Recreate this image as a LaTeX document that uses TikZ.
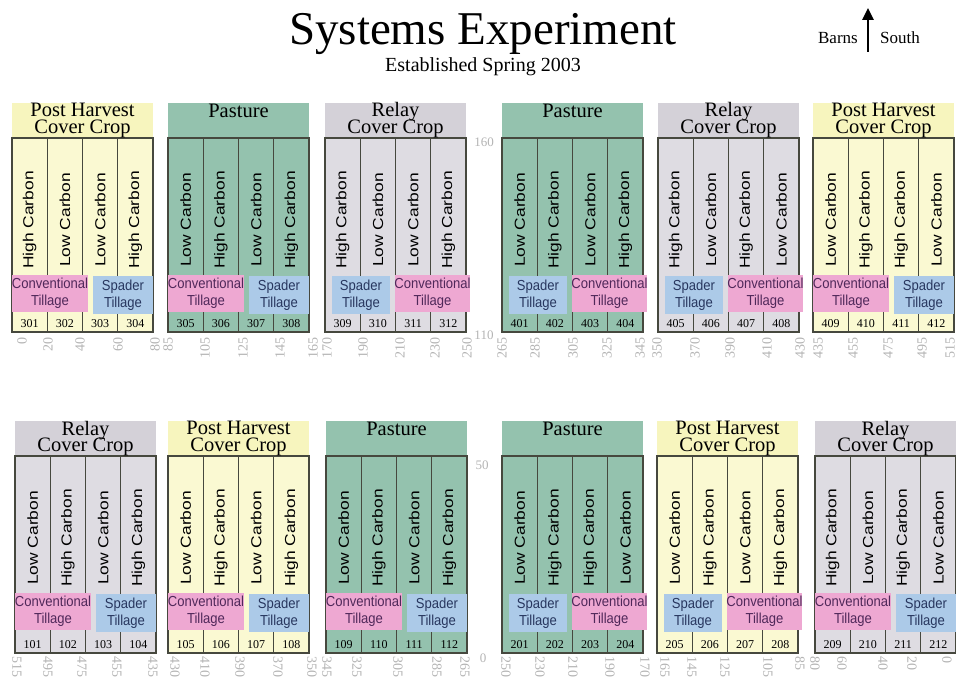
\documentclass[tikz,border=0pt]{standalone}
\usepackage{fontspec}
\usepackage{graphicx}
\setmainfont{Liberation Serif}
\newfontfamily\condsans[FakeStretch=0.9]{Liberation Sans}
\newfontfamily\widesans[FakeStretch=1.2]{Liberation Sans}
\usetikzlibrary{arrows.meta}
\definecolor{phY}{RGB}{247,245,190}
\definecolor{phYin}{RGB}{250,249,210}
\definecolor{pasG}{RGB}{148,194,174}
\definecolor{relG}{RGB}{212,209,216}
\definecolor{relGin}{RGB}{222,220,226}
\definecolor{convP}{RGB}{238,168,210}
\definecolor{spadB}{RGB}{172,202,232}
\definecolor{convT}{RGB}{80,40,90}
\definecolor{spadT}{RGB}{40,55,95}
\definecolor{lineC}{RGB}{70,72,62}
\definecolor{axisC}{RGB}{180,180,180}
\tikzset{
  ph head/.style={fill=phY}, ph body/.style={fill=phYin},
  pa head/.style={fill=pasG}, pa body/.style={fill=pasG},
  re head/.style={fill=relG}, re body/.style={fill=relGin},
  divider/.style={draw=lineC, line width=1.1pt},
  boxline/.style={draw=lineC, line width=1.5pt},
  headtext/.style={anchor=base, inner sep=0pt, font=\fontsize{20.5}{20}\selectfont},
  carbtext/.style={rotate=90, inner sep=0pt, font=\widesans\fontsize{14.5}{16}\selectfont},
  tilltext/.style={align=center, inner sep=0pt, font=\condsans\fontsize{14.5}{17}\selectfont},
  numtext/.style={inner sep=0pt, font=\fontsize{12}{12}\selectfont},
  axtop/.style={rotate=90, anchor=east, inner sep=0pt, text=axisC, font=\fontsize{14}{14}\selectfont},
  axbot/.style={rotate=-90, anchor=west, inner sep=0pt, text=axisC, font=\fontsize{14}{14}\selectfont},
  axside/.style={inner sep=0pt, text=axisC, font=\fontsize{13}{13}\selectfont},
}
\def\carbH{High Carbon}
\def\carbL{Low Carbon}
\newcommand\headph[2]{%
  \node[headtext] at (#1,#2+13) {Post Harvest};
  \node[headtext] at (#1,#2+30.5) {Cover Crop};}
\newcommand\headre[2]{%
  \node[headtext] at (#1,#2+14) {Relay};
  \node[headtext] at (#1,#2+30.5) {Cover Crop};}
\newcommand\headpa[2]{%
  \node[headtext] at (#1,#2+14.5) {Pasture};}
\newcommand\tillC[2]{%
  \fill[convP] (#1,#2+137) rectangle (#1+76,#2+174);
  \node[tilltext, text=convT] at (#1+38,#2+155.5) {Conventional\\Tillage};
  \fill[spadB] (#1+81,#2+138) rectangle (#1+141,#2+176);
  \node[tilltext, text=spadT] at (#1+111,#2+157) {Spader\\Tillage};}
\newcommand\tillS[2]{%
  \fill[spadB] (#1+7,#2+138) rectangle (#1+65,#2+176);
  \node[tilltext, text=spadT] at (#1+36,#2+157) {Spader\\Tillage};
  \fill[convP] (#1+70,#2+137) rectangle (#1+145,#2+174);
  \node[tilltext, text=convT] at (#1+107.5,#2+155.5) {Conventional\\Tillage};}
% #1 left x, #2 header top, #3 box bottom, #4 type, #5 carbons, #6 tillage order, #7 first plot
\newcommand\plotblock[7]{%
  \pgfmathsetmacro\pbTop{#2+35}
  \fill[#4 head] (#1,#2) rectangle (#1+141,\pbTop);
  \fill[#4 body] (#1,\pbTop) rectangle (#1+141,#3);
  \foreach \k in {1,2,3} {\draw[divider] (#1+\k*35.25,\pbTop) -- (#1+\k*35.25,#3);}
  \draw[boxline] (#1,\pbTop) rectangle (#1+141,#3);
  \csname head#4\endcsname{#1+70.5}{#2}
  \foreach \c [count=\i] in {#5} {\node[carbtext] at (#1+\i*35.25-17.6,\pbTop+82) {\csname carb\c\endcsname};}
  \csname till#6\endcsname{#1}{\pbTop}
  \foreach \k in {0,1,2,3} {\pgfmathtruncatemacro\nn{#7+\k}\node[numtext] at (#1+\k*35.25+17.6,#3-8) {\nn};}
}
\begin{document}
\begin{tikzpicture}[x=1pt,y=-1pt]
\useasboundingbox (0,0) rectangle (956,685);
\fill[white] (0,0) rectangle (956,685);
% title
\node[anchor=base, inner sep=0pt, font=\fontsize{47}{47}\selectfont] (title) at (483,45) {Systems Experiment};
\node[anchor=base, inner sep=0pt, font=\fontsize{20}{20}\selectfont] (sub) at (483,72) {Established Spring 2003};
\node[anchor=base east, inner sep=0pt, font=\fontsize{17}{17}\selectfont] (barns) at (858,44) {Barns};
\node[anchor=base west, inner sep=0pt, font=\fontsize{17}{17}\selectfont] (south) at (880,44) {South};
\coordinate (arrbot) at (868,52);
\coordinate (arrtop) at (868,8);
\draw[line width=2.6pt, -{Triangle[length=12pt,width=11pt]}] (arrbot) -- (arrtop);
% top row
\plotblock{12}{103}{332}{ph}{H,L,L,H}{C}{301}
\plotblock{168}{103}{332}{pa}{L,H,L,H}{C}{305}
\plotblock{325}{103}{332}{re}{H,L,L,H}{S}{309}
\plotblock{502}{103}{332}{pa}{L,H,L,H}{S}{401}
\plotblock{658}{103}{332}{re}{H,L,H,L}{S}{405}
\plotblock{813}{103}{332}{ph}{L,H,H,L}{C}{409}
% bottom row
\plotblock{15}{421}{653}{re}{L,H,L,H}{C}{101}
\plotblock{168}{421}{653}{ph}{L,H,L,H}{C}{105}
\plotblock{326}{421}{653}{pa}{L,H,L,H}{C}{109}
\plotblock{502}{421}{653}{pa}{L,H,H,L}{S}{201}
\plotblock{657}{421}{653}{ph}{L,H,L,H}{S}{205}
\plotblock{815}{421}{653}{re}{H,L,H,L}{C}{209}
% axis numbers
\foreach \v/\x in {0/22,20/48,40/80,60/118,80/155,85/168,105/205,125/243,145/280,165/313,170/327,190/363,210/400,230/435,250/467,265/502,285/535,305/573,325/607,345/640,350/657,370/695,390/730,410/767,430/800,435/818,455/853,475/888,495/922,515/950}
  {\node[axtop] at (\x,337) {\v};}
\foreach \v/\x in {515/17,495/48,475/82,455/117,435/153,430/175,410/205,390/240,370/278,350/312,345/327,325/357,305/398,285/437,265/465,250/506,230/540,210/573,190/610,170/645,165/665,145/692,125/725,105/768,85/800,80/815,60/842,40/883,20/912,0/947}
  {\node[axbot] at (\x,656) {\v};}
\node[axside] (a160) at (484,142) {160};
\node[axside] (a110) at (484,335) {110};
\node[axside] (a50) at (482,465) {50};
\node[axside] (a0) at (483,658) {0};
\end{tikzpicture}
\end{document}
